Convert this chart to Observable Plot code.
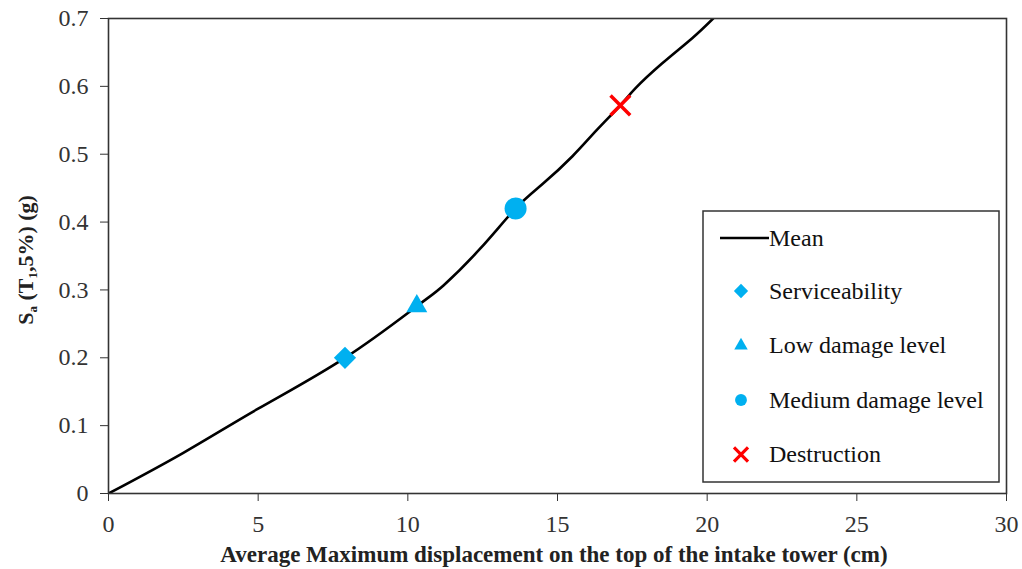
<!DOCTYPE html>
<html>
<head>
<meta charset="utf-8">
<script src="https://cdn.jsdelivr.net/npm/d3@7"></script>
<script src="https://cdn.jsdelivr.net/npm/@observablehq/plot@0.6"></script>
<style>
  body { margin: 0; background: #fff; }
  #chart { width: 1022px; height: 569px; }
  #chart svg, #chart svg text { font-family: "Liberation Serif", "DejaVu Serif", serif !important; }
</style>
</head>
<body>
<div id="chart"></div>
<script>
// Mean curve: average maximum displacement (cm) vs spectral acceleration Sa(T1,5%) (g)
const meanDisp = [0, 2.5, 5, 7.9, 10.3, 11.2, 12.4, 13.6, 14.5, 15.5, 16.3, 17.1, 17.6, 18.5, 19.5, 20.2];
const meanSa   = [0, 0.06, 0.125, 0.2, 0.276, 0.307, 0.36, 0.42, 0.456, 0.497, 0.535, 0.572, 0.597, 0.634, 0.671, 0.70];

// Performance levels marked on the curve
const stateNames   = ["Serviceability", "Low damage level", "Medium damage level", "Destruction"];
const stateDisp    = [7.9, 10.3, 13.6, 17.1];
const stateSa      = [0.2, 0.276, 0.42, 0.572];
const stateSymbols = ["diamond2", "triangle2", "circle", "times"];
const stateColors  = ["#00B0F0", "#00B0F0", "#00B0F0", "#FF0000"];

const xTicks = [0, 5, 10, 15, 20, 25, 30];
const yTicks = [0, 0.1, 0.2, 0.3, 0.4, 0.5, 0.6, 0.7];

const serif = '"Liberation Serif", "DejaVu Serif", serif';

const mean = meanDisp.map((d, i) => ({disp: d, sa: meanSa[i]}));
const states = stateNames.map((name, i) => ({
  name, disp: stateDisp[i], sa: stateSa[i], symbol: stateSymbols[i], color: stateColors[i]
}));

const stateMarks = states.map(s => s.symbol === "times"
  ? Plot.dot([s], {x: "disp", y: "sa", symbol: "times", stroke: s.color, strokeWidth: 3.5, r: 9})
  : Plot.dot([s], {x: "disp", y: "sa", symbol: s.symbol, fill: s.color, stroke: null,
                   r: s.symbol === "circle" ? 11 : 10}));

const chart = Plot.plot({
  width: 1022,
  height: 569,
  marginLeft: 108,
  marginRight: 16,
  marginTop: 18,
  marginBottom: 76,
  style: {fontFamily: serif, background: "#fff"},
  x: {domain: [0, 30]},
  y: {domain: [0, 0.7]},
  marks: [
    Plot.axisX({ticks: xTicks, tickSize: 8, tickPadding: 13, fontSize: 24, label: null, color: "#333"}),
    Plot.axisY({ticks: yTicks, tickSize: 8, tickPadding: 12, fontSize: 24, label: null, color: "#333",
                tickFormat: d => d === 0 ? "0" : d3.format(".1f")(d)}),
    Plot.line(mean, {x: "disp", y: "sa", curve: "natural", stroke: "#000", strokeWidth: 2.6, clip: true}),
    ...stateMarks,
    Plot.frame({stroke: "#333", strokeWidth: 1.6})
  ]
});

document.getElementById("chart").appendChild(chart);

const svg = d3.select(chart);

// X axis title
svg.append("text")
  .attr("x", 554).attr("y", 562)
  .attr("text-anchor", "middle")
  .attr("font-size", 23).attr("font-weight", "bold").attr("fill", "#222")
  .text("Average Maximum displacement on the top of the intake tower (cm)");

// Y axis title with subscripts
const yt = svg.append("text")
  .attr("transform", "translate(33,260) rotate(-90)")
  .attr("text-anchor", "middle")
  .attr("font-size", 22).attr("font-weight", "bold").attr("fill", "#222");
yt.append("tspan").text("S");
yt.append("tspan").attr("font-size", 13).attr("dy", 4).text("a");
yt.append("tspan").attr("dy", -4).text(" (T");
yt.append("tspan").attr("font-size", 13).attr("dy", 4).text("1");
yt.append("tspan").attr("dy", -4).text(",5%) (g)");

// Legend box
const lg = svg.append("g").attr("transform", "translate(703,211)")
  .attr("text-anchor", "start");
lg.append("rect").attr("width", 296).attr("height", 271)
  .attr("fill", "#fff").attr("stroke", "#333").attr("stroke-width", 1.5);
lg.append("line").attr("x1", 17).attr("x2", 66).attr("y1", 27).attr("y2", 27)
  .attr("stroke", "#000").attr("stroke-width", 2.6);
lg.append("text").attr("x", 66).attr("y", 27).attr("dy", "0.33em")
  .attr("font-size", 24).attr("fill", "#111").text("Mean");

const d3Symbols = {diamond2: d3.symbolDiamond2, triangle2: d3.symbolTriangle2, circle: d3.symbolCircle, times: d3.symbolTimes};
states.forEach((s, i) => {
  const cy = 80 + i * 54.5;
  const sym = lg.append("path")
    .attr("transform", `translate(38,${cy})`)
    .attr("d", d3.symbol(d3Symbols[s.symbol], s.symbol === "circle" ? 110 : 130)());
  if (s.symbol === "times") sym.attr("fill", "none").attr("stroke", s.color).attr("stroke-width", 3.2);
  else sym.attr("fill", s.color);
  lg.append("text").attr("x", 66).attr("y", cy).attr("dy", "0.33em")
    .attr("font-size", 24).attr("fill", "#111").text(s.name);
});

// Serif face on every label
svg.selectAll("text").attr("font-family", serif);
</script>
</body>
</html>
